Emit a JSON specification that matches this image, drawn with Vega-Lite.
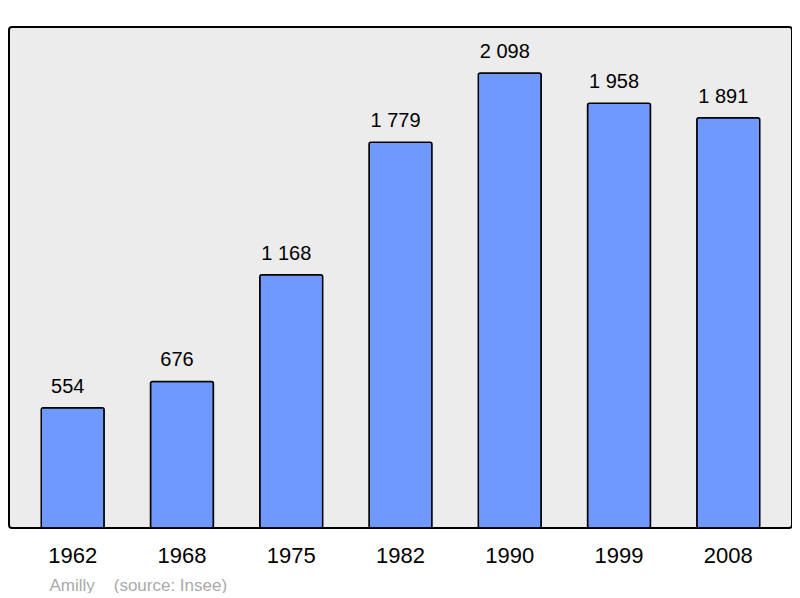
{
  "$schema": "https://vega.github.io/schema/vega-lite/v6.json",
  "width": 783,
  "height": 501,
  "padding": {"left": 9, "top": 27, "right": 0, "bottom": 0},
  "background": "#ffffff",
  "config": {
    "view": {"fill": "#ececec", "stroke": "#000000", "strokeWidth": 2, "cornerRadius": 3},
    "font": "Liberation Sans"
  },
  "data": {
    "values": [
      {"year": "1962", "pop": 554, "label": "554"},
      {"year": "1968", "pop": 676, "label": "676"},
      {"year": "1975", "pop": 1168, "label": "1 168"},
      {"year": "1982", "pop": 1779, "label": "1 779"},
      {"year": "1990", "pop": 2098, "label": "2 098"},
      {"year": "1999", "pop": 1958, "label": "1 958"},
      {"year": "2008", "pop": 1891, "label": "1 891"}
    ]
  },
  "encoding": {
    "x": {
      "field": "year", "type": "nominal", "sort": null,
      "scale": {"paddingInner": 0.424, "paddingOuter": 0.295},
      "axis": {
        "domain": false, "ticks": false, "labelAngle": 0,
        "labelFontSize": 22, "labelColor": "#000000", "labelPadding": 17,
        "labelFont": "Liberation Sans",
        "title": "Amilly\u00a0\u00a0\u00a0\u00a0(source: Insee)",
        "titleFont": "Liberation Sans", "titleFontSize": 17, "titleFontWeight": "normal",
        "titleColor": "#aaaaaa", "titleAnchor": "start", "titleAlign": "left",
        "titleX": 40, "titleY": 57, "titleBaseline": "middle"
      }
    },
    "y": {
      "field": "pop", "type": "quantitative",
      "scale": {"domain": [0, 2310], "nice": false},
      "axis": null
    }
  },
  "layer": [
    {
      "mark": {"type": "bar", "fill": "#7099ff", "stroke": "#000000", "strokeWidth": 1.5, "cornerRadius": 2}
    },
    {
      "mark": {"type": "text", "fontSize": 20, "color": "#000000", "baseline": "alphabetic", "dy": -15, "dx": -5, "font": "Liberation Sans"},
      "encoding": {"text": {"field": "label"}}
    }
  ]
}
